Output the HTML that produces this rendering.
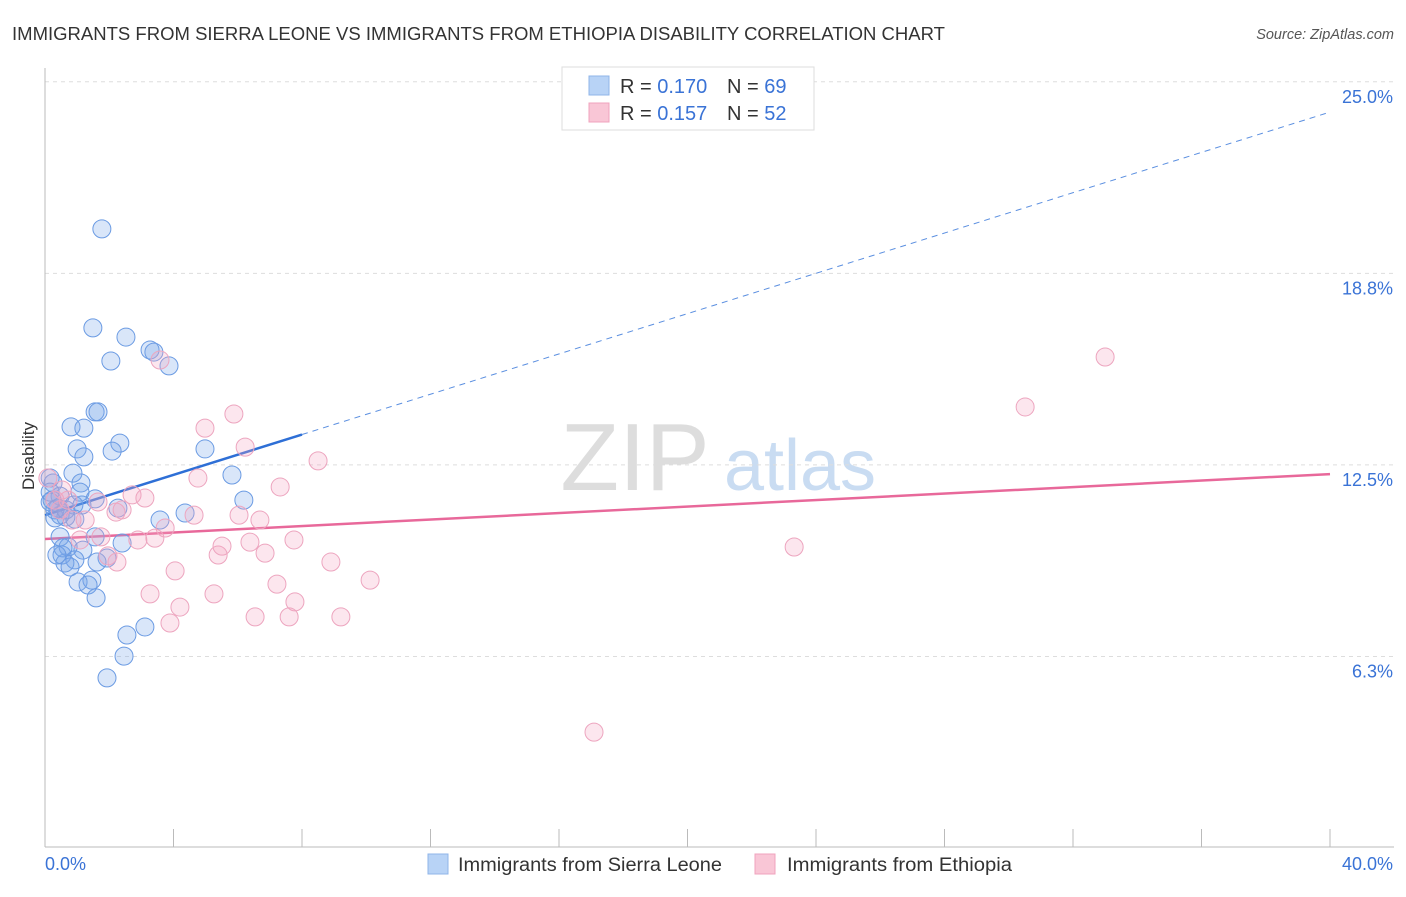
<!DOCTYPE html>
<html><head><meta charset="utf-8"><style>
body{margin:0;background:#fff;font-family:"Liberation Sans",sans-serif;}
svg text{font-family:"Liberation Sans",sans-serif;}
</style></head><body>
<svg id="chart" width="1406" height="892" viewBox="0 0 1406 892" xmlns="http://www.w3.org/2000/svg">
<text x="12" y="40" font-size="18" fill="#333" textLength="933" lengthAdjust="spacingAndGlyphs">IMMIGRANTS FROM SIERRA LEONE VS IMMIGRANTS FROM ETHIOPIA DISABILITY CORRELATION CHART</text>
<text x="1394" y="39" font-size="14.5" fill="#555" font-style="italic" text-anchor="end">Source: ZipAtlas.com</text>
<g>
<text x="635" y="490" font-size="96" fill="#ddd" text-anchor="middle" font-family="Liberation Serif">ZIP</text>
<text x="800" y="490" font-size="72" fill="#c9dcf2" text-anchor="middle">atlas</text>
</g>
<g id="grid"></g>
<g id="axes"></g>
<g id="trends"></g>
<g id="points"></g>
<text x="34" y="456" font-size="17" fill="#333" text-anchor="middle" transform="rotate(-90 34 456)">Disability</text>
<g>
<rect x="562" y="67" width="252" height="63" fill="#fff" stroke="#ddd"/>
<rect x="589" y="76" width="20" height="19" fill="#b8d3f6" stroke="#8fb4e8"/>
<rect x="589" y="103" width="20" height="19" fill="#f9c6d6" stroke="#f0a3bd"/>
<text x="620" y="93" font-size="20" fill="#333">R = <tspan fill="#3a73d6">0.170</tspan></text>
<text x="727" y="93" font-size="20" fill="#333">N = <tspan fill="#3a73d6">69</tspan></text>
<text x="620" y="120" font-size="20" fill="#333">R = <tspan fill="#3a73d6">0.157</tspan></text>
<text x="727" y="120" font-size="20" fill="#333">N = <tspan fill="#3a73d6">52</tspan></text>
</g>
<g>
<rect x="428" y="854" width="20" height="20" fill="#b8d3f6" stroke="#8fb4e8"/>
<text x="458" y="871" font-size="19" fill="#333" textLength="264" lengthAdjust="spacingAndGlyphs">Immigrants from Sierra Leone</text>
<rect x="755" y="854" width="20" height="20" fill="#f9c6d6" stroke="#f0a3bd"/>
<text x="787" y="871" font-size="19" fill="#333" textLength="225" lengthAdjust="spacingAndGlyphs">Immigrants from Ethiopia</text>
</g>
</svg>
<script>
const xTickVals=[0,4,8,12,16,20,24,28,32,36,40];
const yTickVals=[6.25,12.5,18.75,25];
const yTickLabels=["6.3%","12.5%","18.8%","25.0%"];
const xEndLabels=["0.0%","40.0%"];
const blueX=[1.77,1.49,2.52,2.05,3.27,3.39,3.86,1.56,1.65,0.81,1.21,2.33,1.00,2.09,1.21,4.98,5.82,0.87,0.16,0.25,1.12,0.16,0.47,1.09,1.56,0.16,0.90,1.15,0.40,0.47,0.65,0.31,0.93,2.27,3.58,4.36,6.19,0.47,1.56,2.40,0.72,1.18,0.53,0.93,0.62,0.78,1.93,1.62,1.03,1.46,1.34,1.59,2.55,3.11,2.46,1.93,0.31,0.22,0.65,0.56,0.37];
const blueY=[20.2,16.97,16.67,15.89,16.25,16.18,15.73,14.23,14.23,13.74,13.70,13.21,13.02,12.95,12.76,13.02,12.17,12.23,12.07,11.91,11.91,11.61,11.48,11.61,11.39,11.29,11.19,11.19,11.09,10.86,10.80,10.77,10.73,11.09,10.70,10.93,11.35,10.15,10.15,9.95,9.82,9.72,9.56,9.40,9.30,9.17,9.46,9.33,8.68,8.74,8.58,8.16,6.95,7.21,6.26,5.55,11.03,11.35,11.03,9.79,9.56];
const pinkX=[0.09,0.31,0.47,0.84,1.65,2.21,2.40,2.71,3.11,3.58,4.98,5.88,6.23,4.76,7.32,8.50,3.74,3.42,2.89,1.74,1.96,2.24,5.39,5.51,6.38,6.85,6.04,6.69,4.64,7.75,4.05,3.27,4.20,5.26,7.22,7.78,6.54,7.60,3.89,8.90,9.21,10.12,33.0,30.51,23.32,17.09,1.09,1.25,0.72,0.53];
const pinkY=[12.07,11.35,11.03,10.70,11.29,10.96,11.03,11.52,11.42,15.92,13.70,14.16,13.08,12.07,11.78,12.63,10.44,10.11,10.05,10.15,9.53,9.33,9.56,9.85,9.98,9.62,10.86,10.70,10.86,10.05,9.04,8.29,7.86,8.29,8.61,8.03,7.54,7.54,7.34,9.33,7.54,8.74,16.02,14.39,9.82,3.78,10.05,10.70,11.35,11.68];
const blueTrend=[10.86,24.01];
const pinkTrend=[10.08,12.20];
const blueSolidEnd=8;

const NS="http://www.w3.org/2000/svg";
const X0=45,X1=1330,Y0=848,YS=30.65;
function sx(v){return X0+(v/40)*(X1-X0);}
function sy(v){return Y0-v*YS;}
function mk(tag,attrs,parent){const e=document.createElementNS(NS,tag);for(const k in attrs)e.setAttribute(k,attrs[k]);parent.appendChild(e);return e;}
const grid=document.getElementById('grid'),axes=document.getElementById('axes'),trends=document.getElementById('trends'),pts=document.getElementById('points');
yTickVals.forEach((v,i)=>{
  const l=mk('line',{x1:X0,x2:1394,y1:sy(v),y2:sy(v),stroke:'#ddd','stroke-dasharray':'4 4'},grid);
  
  
  const t=mk('text',{x:1393,y:sy(v)+21,'font-size':18,fill:'#3a73d6','text-anchor':'end'},axes);
  t.textContent=yTickLabels[i];
  
  
});
const yl=mk('line',{x1:X0,x2:X0,y1:68,y2:847,stroke:'#bbb'},axes);


const xl=mk('line',{x1:X0,x2:1394,y1:847,y2:847,stroke:'#bbb'},axes);


xTickVals.forEach(v=>{
  const t=mk('line',{x1:sx(v),x2:sx(v),y1:829,y2:847,stroke:'#bbb'},axes);
  
  
});
const xa=mk('text',{x:45,y:870,'font-size':18,fill:'#3a73d6'},axes);
xa.textContent=xEndLabels[0];


const xb=mk('text',{x:1393,y:870,'font-size':18,fill:'#3a73d6','text-anchor':'end'},axes);
xb.textContent=xEndLabels[1];


function ty(tr,x){return tr[0]+(tr[1]-tr[0])*x/40;}
const bs=mk('line',{x1:sx(0),y1:sy(ty(blueTrend,0)),x2:sx(blueSolidEnd),y2:sy(ty(blueTrend,blueSolidEnd)),stroke:'#2e6fd6','stroke-width':2.5},trends);


const bd=mk('line',{x1:sx(blueSolidEnd),y1:sy(ty(blueTrend,blueSolidEnd)),x2:sx(40),y2:sy(ty(blueTrend,40)),stroke:'#5b8fe0','stroke-width':1,'stroke-dasharray':'6 5'},trends);


const pl=mk('line',{x1:sx(0),y1:sy(pinkTrend[0]),x2:sx(40),y2:sy(pinkTrend[1]),stroke:'#e8689a','stroke-width':2.5},trends);


blueX.forEach((x,i)=>{
  const c=mk('circle',{cx:sx(x),cy:sy(blueY[i]),r:9,fill:'rgba(120,165,235,0.28)',stroke:'#6b9be3','stroke-width':1},pts);
  
  
});
pinkX.forEach((x,i)=>{
  const c=mk('circle',{cx:sx(x),cy:sy(pinkY[i]),r:9,fill:'rgba(245,165,195,0.28)',stroke:'#eda5bf','stroke-width':1},pts);
  
  
});
</script>
</body></html>
